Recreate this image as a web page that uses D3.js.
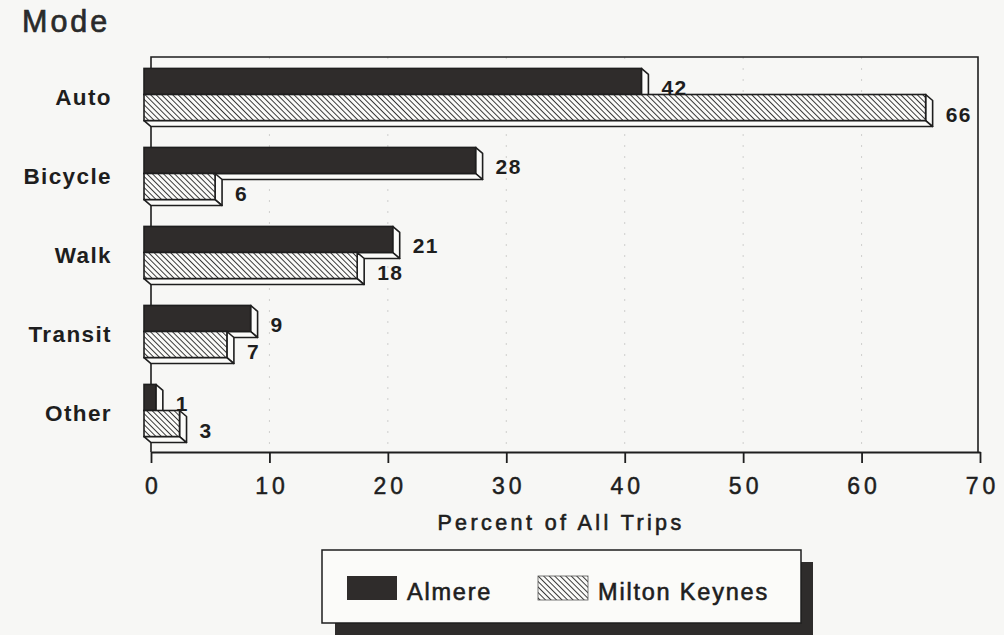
<!DOCTYPE html>
<html>
<head>
<meta charset="utf-8">
<script src="https://cdn.jsdelivr.net/npm/d3@7/dist/d3.min.js"></script>
<style>
  html, body { margin: 0; padding: 0; background: #f7f7f5; }
  svg { display: block; font-family: "Liberation Sans", Arial, Helvetica, sans-serif; }
</style>
</head>
<body>
<svg id="chart" width="1004" height="635"></svg>
<script>
const categories = ["Auto", "Bicycle", "Walk", "Transit", "Other"];
const almere = [42, 28, 21, 9, 1];
const miltonKeynes = [66, 6, 18, 7, 3];
const tickValues = [0, 10, 20, 30, 40, 50, 60, 70];
const seriesNames = ["Almere", "Milton Keynes"];
const axisTitle = "Percent of All Trips";
const yTitle = "Mode";

const svg = d3.select("#chart");
const ink = "#1e1e1e";
const darkFill = "#2f2c2b";

// hatch pattern
const defs = svg.append("defs");
const hs = 3.9;
const pat = defs.append("pattern")
  .attr("id", "hatch").attr("patternUnits", "userSpaceOnUse")
  .attr("width", hs).attr("height", hs)
  .attr("patternTransform", "rotate(-45)");
pat.append("rect").attr("width", hs).attr("height", hs).attr("fill", "#fbfbf9");
pat.append("line").attr("x1", 0).attr("y1", 0).attr("x2", 0).attr("y2", hs)
  .attr("stroke", "#1a1a1a").attr("stroke-width", 1.7);

const x = d3.scaleLinear().domain([0, 70]).range([151, 980]);
const y = d3.scaleBand().domain(categories).range([57, 452]).paddingInner(0.34).paddingOuter(0.17);

const dx = 7, dy = 6;   // 3D depth
const frontShiftY = -2;

// gridlines
svg.append("g").selectAll("line").data(tickValues.filter(t => t > 0 && t < 70)).join("line")
  .attr("x1", d => x(d)).attr("x2", d => x(d))
  .attr("y1", 57).attr("y2", 452)
  .attr("stroke", "#cfcfcd").attr("stroke-width", 1).attr("stroke-dasharray", "2,9");

// frame (back plane)
svg.append("path")
  .attr("d", `M${x(0)},452 L${x(0)},57 L${x(70) - 2},57 L${x(70) - 2},452`)
  .attr("fill", "none").attr("stroke", ink).attr("stroke-width", 1.6);

// x axis
const xAxis = d3.axisBottom(x).tickValues(tickValues).tickSize(11).tickPadding(15).tickSizeOuter(0);
const gx = svg.append("g").attr("transform", "translate(0,452)").call(xAxis);
gx.select(".domain").attr("stroke", ink).attr("stroke-width", 1.8);
gx.selectAll(".tick line").attr("stroke", ink).attr("stroke-width", 1.8);
gx.selectAll(".tick text").attr("fill", ink).attr("font-size", 23).attr("letter-spacing", "4px")
  .attr("stroke", ink).attr("stroke-width", 0.5)
  .attr("font-family", "'Liberation Sans', Arial, sans-serif").attr("dx", "2px");

svg.append("text").attr("x", 561).attr("y", 530).attr("text-anchor", "middle")
  .attr("font-size", 21.5).attr("letter-spacing", "3.4px").attr("fill", ink)
  .attr("stroke", ink).attr("stroke-width", 0.6)
  .text(axisTitle);

svg.append("text").attr("x", 22).attr("y", 32).attr("font-size", 30.5).attr("letter-spacing", "3px")
  .attr("fill", "#2a2a2a").attr("stroke", "#2a2a2a").attr("stroke-width", 0.7).text(yTitle);

// category labels
svg.append("g").selectAll("text").data(categories).join("text")
  .attr("x", 112).attr("y", d => y(d) + y.bandwidth() / 2 + 8.5)
  .attr("text-anchor", "end").attr("font-size", 22.5).attr("font-weight", "bold")
  .attr("letter-spacing", "1.4px").attr("fill", ink).text(d => d);

// bars
function bar3d(g, v, top, h, fill) {
  const x0 = x(0) - dx, x1 = x(v) - dx, y0 = top, y1 = top + h;
  g.append("path")
    .attr("d", `M${x1},${y0} L${x1 + dx},${y0 + dy} L${x1 + dx},${y1 + dy} L${x1},${y1} Z`)
    .attr("fill", "#fbfbf9").attr("stroke", ink).attr("stroke-width", 1.6).attr("stroke-linejoin", "round");
  g.append("path")
    .attr("d", `M${x0},${y1} L${x1},${y1} L${x1 + dx},${y1 + dy} L${x0 + dx},${y1 + dy} Z`)
    .attr("fill", "#fbfbf9").attr("stroke", ink).attr("stroke-width", 1.6).attr("stroke-linejoin", "round");
  g.append("rect").attr("x", x0).attr("y", y0).attr("width", x1 - x0).attr("height", h)
    .attr("fill", fill).attr("stroke", ink).attr("stroke-width", 1.6);
}
function valueLabel(g, v, top, h) {
  g.append("text").attr("x", x(v) + 13).attr("y", top + dy + h / 2 + 8)
    .attr("font-size", 21).attr("font-weight", "bold").attr("letter-spacing", "1.5px")
    .attr("fill", ink).text(v);
}

const bh = y.bandwidth() / 2;
categories.forEach((c, i) => {
  const g = svg.append("g");
  const top = y(c) + frontShiftY;
  bar3d(g, almere[i], top, bh, darkFill);
  valueLabel(g, almere[i], top, bh);
  bar3d(g, miltonKeynes[i], top + bh, bh, "url(#hatch)");
  valueLabel(g, miltonKeynes[i], top + bh, bh);
});

// legend
const lg = svg.append("g");
lg.append("rect").attr("x", 335).attr("y", 562).attr("width", 478).attr("height", 80).attr("fill", "#2e2c2b");
lg.append("rect").attr("x", 322).attr("y", 550).attr("width", 479).attr("height", 73)
  .attr("fill", "#fbfbf9").attr("stroke", ink).attr("stroke-width", 1.5);
const legendItems = [
  { name: seriesNames[0], fill: darkFill, sx: 347, tx: 407 },
  { name: seriesNames[1], fill: "url(#hatch)", sx: 538, tx: 598 }
];
legendItems.forEach(d => {
  lg.append("rect").attr("x", d.sx).attr("y", 576).attr("width", 50).attr("height", 24)
    .attr("fill", d.fill).attr("stroke", d.fill === darkFill ? "none" : "#555").attr("stroke-width", 0.8);
  lg.append("text").attr("x", d.tx).attr("y", 600).attr("font-size", 23.5).attr("letter-spacing", "1.8px")
    .attr("fill", ink).attr("stroke", ink).attr("stroke-width", 0.6).text(d.name);
});
</script>
</body>
</html>
